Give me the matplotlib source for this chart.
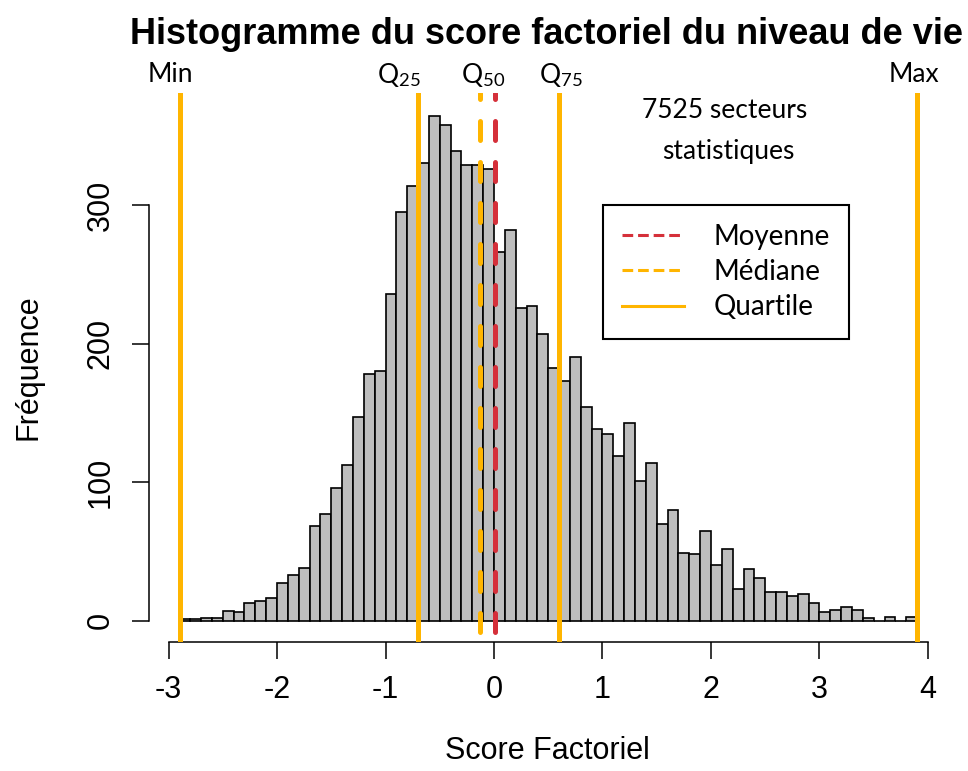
import numpy as np
import matplotlib
matplotlib.use("Agg")
import matplotlib.pyplot as plt
from matplotlib.lines import Line2D

plt.rcParams['font.family'] = ['Liberation Sans', 'DejaVu Sans']
plt.rcParams['mathtext.fontset'] = 'custom'
plt.rcParams['mathtext.rm'] = 'Lato'
plt.rcParams['mathtext.it'] = 'Lato:italic'

# histogram: bins of width 0.1 starting at -2.9
bin_start = -2.9
bin_width = 0.1
counts = [1, 1, 2, 2, 7, 6, 13, 14, 16, 27,
          33, 38, 68, 77, 96, 112, 147, 178, 180, 236,
          295, 314, 330, 364, 358, 339, 329, 329, 326,
          266, 282, 226, 227, 207, 182, 173, 190, 154, 138,
          135, 119, 143, 101, 114, 70, 80, 49, 48, 65,
          40, 52, 23, 37, 31, 21, 21, 18, 19, 13,
          6, 8, 10, 8, 2, 0, 3, 0, 3]

# summary statistics
v_min = -2.89
q25 = -0.70
q50 = -0.13
moyenne = 0.01
q75 = 0.60
v_max = 3.90

x_ticks = [-3, -2, -1, 0, 1, 2, 3, 4]
y_ticks = [0, 100, 200, 300]

orange = '#FFB500'
red = '#D5303A'

fig = plt.figure(figsize=(9.68, 7.71), dpi=100)
ax = fig.add_axes([149 / 968, 1 - 642 / 771, (945 - 149) / 968, (642 - 93) / 771])

lefts = bin_start + bin_width * np.arange(len(counts))
ax.bar(lefts, counts, width=bin_width, align='edge', color='#BEBEBE',
       edgecolor='black', linewidth=1.2, zorder=2)

ax.set_xlim(-3.18, 4.157)
ax.set_ylim(-15.4, 380.8)

# vertical reference lines
for v in [v_min, q25, q75, v_max]:
    ax.axvline(v, color=orange, lw=3.6, zorder=3)
dash = (6.2, (3.8, 4.4))
ax.axvline(q50, color=orange, lw=3.6, linestyle=dash, dash_capstyle='round', zorder=3)
ax.axvline(moyenne, color=red, lw=3.6, linestyle=dash, dash_capstyle='round', zorder=3)

# axes like R
for s in ['top', 'right']:
    ax.spines[s].set_visible(False)
ax.spines['left'].set_bounds(0, 300)
ax.spines['bottom'].set_bounds(-3, 4)
ax.spines['left'].set_linewidth(1.1)
ax.spines['bottom'].set_linewidth(1.1)
ax.set_xticks(x_ticks)
ax.set_xticklabels([str(t) for t in x_ticks])
ax.set_yticks(y_ticks)
ax.set_yticklabels([str(t) for t in y_ticks], rotation=90, va='center')
ax.tick_params(axis='both', length=12, width=1.1, labelsize=22, pad=12)

ax.set_xlabel('Score Factoriel', fontsize=22, labelpad=22)
ax.set_ylabel('Fréquence', fontsize=22, labelpad=30)
ax.set_title('Histogramme du score factoriel du niveau de vie', fontsize=26,
             fontweight='bold', pad=35)

# labels above the lines
labels = [(v_min, 'Min', -7), (q25, r'Q$_{25}$', -14), (q50, r'Q$_{50}$', 2),
          (q75, r'Q$_{75}$', 1), (v_max, 'Max', -2)]
for v, txt, dx in labels:
    ax.annotate(txt, xy=(v, 1.0), xycoords=('data', 'axes fraction'),
                xytext=(dx, 13), textcoords='offset points', ha='center', va='center',
                fontsize=19, family='Lato', annotation_clip=False)

fig.text(725 / 968, 1 - 110 / 771, '7525 secteurs', fontsize=19, family='Lato',
         ha='center', va='center')
fig.text(728 / 968, 1 - 152 / 771, 'statistiques', fontsize=19, family='Lato',
         ha='center', va='center')

handles = [Line2D([], [], color=red, lw=2.2, linestyle=(0, (3.5, 1.6))),
           Line2D([], [], color=orange, lw=2.2, linestyle=(0, (3.5, 1.6))),
           Line2D([], [], color=orange, lw=2.2)]
leg = ax.legend(handles, ['Moyenne', 'Médiane', 'Quartile'], loc='upper left',
                bbox_to_anchor=(603 / 968, 1 - 205 / 771), bbox_transform=fig.transFigure,
                borderaxespad=0, fancybox=False, edgecolor='black', framealpha=1,
                prop={'family': 'Lato', 'size': 20}, handlelength=2.25,
                handletextpad=1.05, borderpad=0.68, labelspacing=0.33)
leg.get_frame().set_linewidth(1.5)

fig.savefig('out.png', dpi=100)
